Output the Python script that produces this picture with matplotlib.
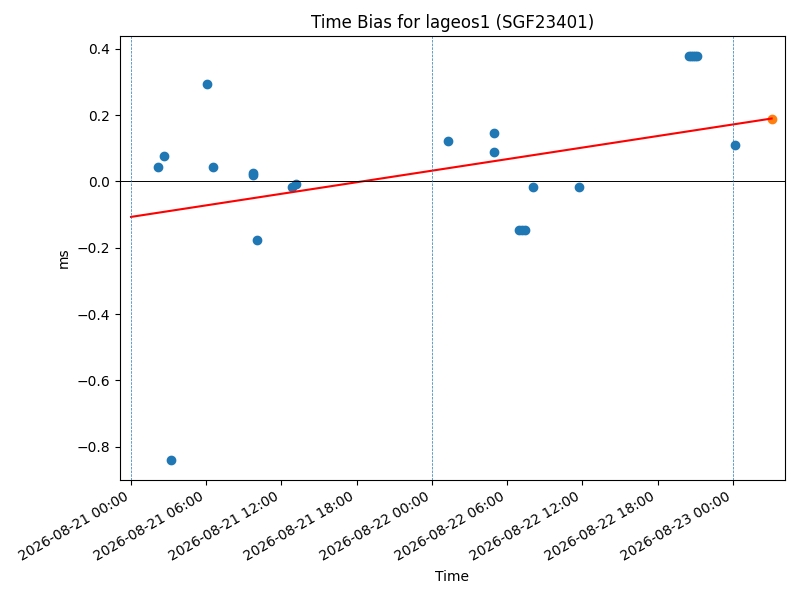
import matplotlib
matplotlib.use('Agg')
import matplotlib.pyplot as plt
import matplotlib.dates as mdates
import numpy as np
import pandas as pd

# Observation times (hours after 2026-08-21 00:00) and time bias in ms
start = pd.Timestamp('2026-08-21 00:00')
obs_hours = [2.15, 2.63, 3.19, 6.06, 6.54, 9.73, 9.75, 10.05, 12.84, 13.16,
             25.28, 28.95, 28.97, 30.94, 31.18, 31.41, 32.1, 35.7,
             44.49, 44.65, 44.81, 44.97, 45.13, 48.2]
bias_ms = [0.045, 0.078, -0.84, 0.294, 0.045, 0.027, 0.018, -0.177, -0.018, -0.007,
           0.123, 0.147, 0.090, -0.147, -0.147, -0.147, -0.018, -0.018,
           0.378, 0.378, 0.378, 0.378, 0.378, 0.111]

# Linear trend and predicted point
fit_intercept = -0.107   # ms at start
fit_slope = 0.00581      # ms per hour
pred_hour = 51.1

times = start + pd.to_timedelta(obs_hours, unit='h')
pred_time = start + pd.Timedelta(hours=pred_hour)
pred_val = fit_intercept + fit_slope * pred_hour
days = pd.date_range('2026-08-21', '2026-08-23', freq='D')

fig, ax = plt.subplots(figsize=(8, 6))
ax.scatter(times, bias_ms)
ax.plot([start, pred_time], [fit_intercept, pred_val], color='red')
ax.scatter([pred_time], [pred_val], color='C1')
ax.axhline(0, color='black', linewidth=0.7)
for d in days:
    ax.axvline(d, linestyle='--', linewidth=0.5)

ax.set_xlim(start - pd.Timedelta(hours=0.88), start + pd.Timedelta(hours=52.15))
ax.xaxis.set_major_locator(mdates.HourLocator(byhour=[0, 6, 12, 18]))
ax.xaxis.set_major_formatter(mdates.DateFormatter('%Y-%m-%d %H:%M'))
ax.set_title('Time Bias for lageos1 (SGF23401)')
ax.set_xlabel('Time')
ax.set_ylabel('ms')
fig.autofmt_xdate()
fig.subplots_adjust(left=0.15, right=0.981, top=0.94, bottom=0.2)

plt.savefig('out.png', dpi=100)
